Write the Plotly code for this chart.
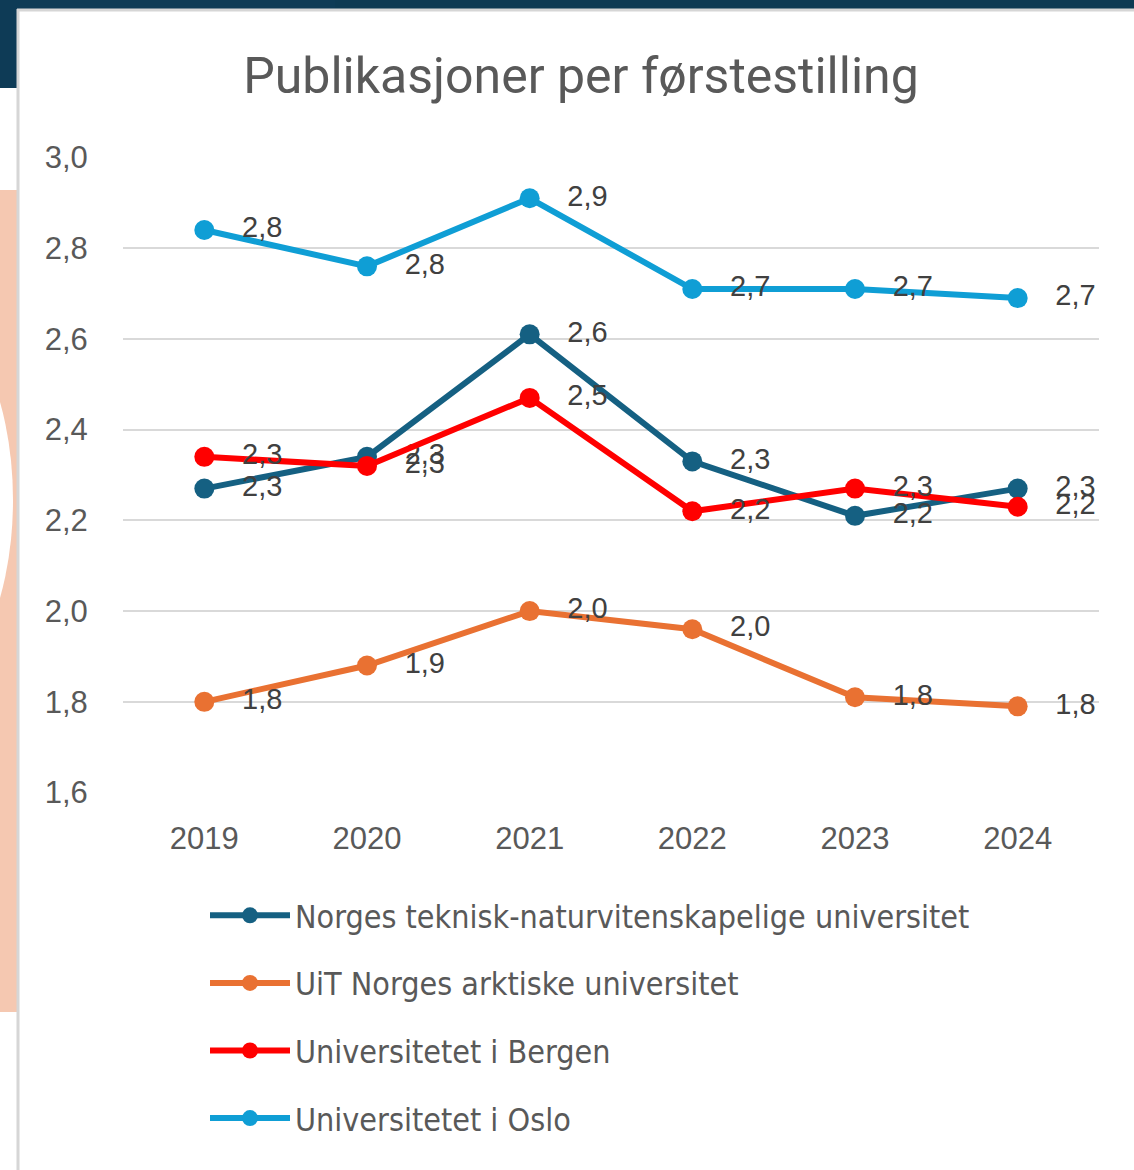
import plotly.graph_objects as go

years = ["2019", "2020", "2021", "2022", "2023", "2024"]
ntnu = [2.27, 2.34, 2.61, 2.33, 2.21, 2.27]
uit = [1.80, 1.88, 2.00, 1.96, 1.81, 1.79]
uib = [2.34, 2.32, 2.47, 2.22, 2.27, 2.23]
uio = [2.84, 2.76, 2.91, 2.71, 2.71, 2.69]

series_names = [
    "Norges teknisk-naturvitenskapelige universitet",
    "UiT Norges arktiske universitet",
    "Universitetet i Bergen",
    "Universitetet i Oslo",
]
series_values = [ntnu, uit, uib, uio]
series_colors = ["#156082", "#E97132", "#FF0000", "#0F9ED5"]

W, H = 1134, 1170
ML, MR, MT, MB = 123, 35, 157, 377
PW, PH = W - ML - MR, H - MT - MB


def px(x):
    return (x - ML) / PW


def py(y):
    return 1 - (y - MT) / PH


fig = go.Figure()
for i, (name, vals, col) in enumerate(zip(series_names, series_values, series_colors)):
    labels = ["\u00a0\u00a0\u00a0" + f"{v:.1f}".replace(".", ",") for v in vals]
    fig.add_trace(go.Scatter(
        x=years, y=vals, name=name, mode="lines+markers+text",
        line=dict(color=col, width=6),
        marker=dict(color=col, size=20),
        text=labels, textposition="middle right",
        textfont=dict(family="Liberation Sans, Arial, sans-serif", size=29, color="#404040"),
        cliponaxis=False, legendgroup=f"g{i}",
    ))

shapes = [
    # top navy band
    dict(type="rect", xref="paper", yref="paper", x0=px(0), x1=px(335), y0=py(0), y1=py(9),
         fillcolor="#0e3b56", line_width=0, layer="below"),
    dict(type="rect", xref="paper", yref="paper", x0=px(335), x1=px(W), y0=py(0), y1=py(9),
         fillcolor="#0d3a53", line_width=0, layer="below"),
    dict(type="rect", xref="paper", yref="paper", x0=px(0), x1=px(17), y0=py(0), y1=py(88),
         fillcolor="#0e3b56", line_width=0, layer="below"),
    # peach side
    dict(type="rect", xref="paper", yref="paper", x0=px(0), x1=px(17), y0=py(190), y1=py(1012),
         fillcolor="#f5c8b1", line_width=0, layer="below"),
    dict(type="circle", xref="paper", yref="paper", x0=px(-190), x1=px(13), y0=py(300), y1=py(700),
         fillcolor="#ffffff", line_width=0, layer="below"),
    # panel border
    dict(type="line", xref="paper", yref="paper", x0=px(18), x1=px(18), y0=py(9), y1=py(H),
         line=dict(color="#d6d6d6", width=3), layer="below"),
    dict(type="line", xref="paper", yref="paper", x0=px(17), x1=px(W), y0=py(10), y1=py(10),
         line=dict(color="#d6d6d6", width=3), layer="below"),
]

fig.update_layout(
    width=W, height=H,
    margin=dict(l=ML, r=MR, t=MT, b=MB),
    paper_bgcolor="#ffffff", plot_bgcolor="#ffffff",
    separators=", ",
    title=dict(text="Publikasjoner per førstestilling", x=581 / W, xanchor="center", xref="container",
               y=1 - 75 / H, yanchor="middle", yref="container",
               font=dict(family="Roboto, sans-serif", size=50, color="#595959")),
    xaxis=dict(type="category", range=[-0.5, 5.5], showgrid=False, showline=False, zeroline=False,
               ticks="outside", ticklen=18, tickcolor="rgba(0,0,0,0)",
               tickfont=dict(family="Liberation Sans, Arial, sans-serif", size=31, color="#595959")),
    yaxis=dict(range=[1.599, 3.001], tickvals=[1.6, 1.8, 2.0, 2.2, 2.4, 2.6, 2.8, 3.0],
               tickformat=".1f", showgrid=True, gridcolor="#d9d9d9", gridwidth=2,
               zeroline=False, showline=False,
               ticks="outside", ticklen=28, tickcolor="rgba(0,0,0,0)",
               tickfont=dict(family="Liberation Sans, Arial, sans-serif", size=31, color="#595959")),
    legend=dict(x=px(205), xanchor="left", y=py(888), yanchor="top",
                orientation="v", tracegroupgap=23, itemwidth=80,
                font=dict(family="Liberation Sans Narrow, DejaVu Sans Condensed, sans-serif",
                          size=32, color="#595959"),
                bgcolor="rgba(0,0,0,0)"),
    shapes=shapes,
    showlegend=True,
)

fig.write_html("out.html", config={"displayModeBar": False},
               post_script="document.body.style.margin='0';")
